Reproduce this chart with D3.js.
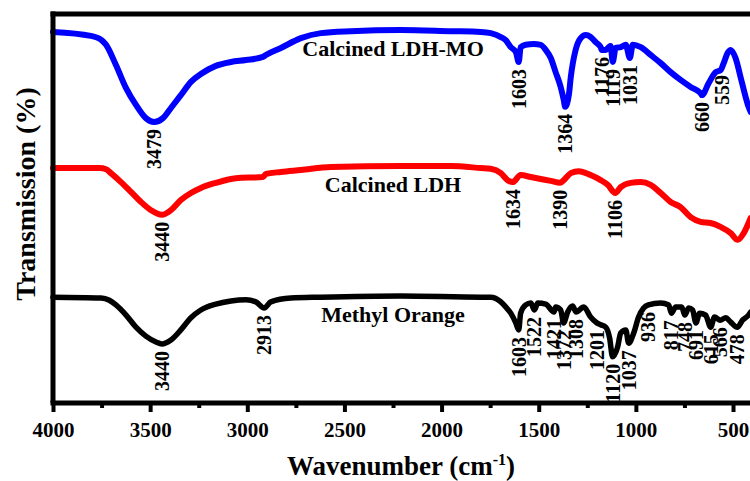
<!DOCTYPE html>
<html>
<head>
<meta charset="utf-8">
<script src="https://cdn.jsdelivr.net/npm/d3@7"></script>
<style>
  body { margin: 0; background: #fff; }
  svg { display: block; }
  text { font-family: "Liberation Serif", "Times New Roman", serif; font-weight: bold; fill: #000; }
</style>
</head>
<body>
<div id="chart"></div>
<script>
// FTIR spectra: [wavenumber (cm-1), transmission (a.u.)]
var ldhMoSpectrum = [
  [4000,95.4],[3805,94.4],[3750,93.3],[3727,92.1],[3676,86.9],[3624,81.0],[3573,76.7],[3522,73.3],[3480,72.3],
  [3434,73.3],[3393,75.9],[3342,79.2],[3290,82.6],[3239,84.6],[3162,86.7],[3084,87.7],[3007,88.2],
  [2920,89.0],[2904,89.5],[2827,91.3],[2724,93.8],[2621,95.1],[2467,95.6],[2210,95.9],[1953,95.6],
  [1798,95.4],[1747,95.1],[1695,94.1],[1670,93.3],[1644,91.5],[1618,90.3],[1603,87.7],[1593,91.5],
  [1567,92.1],[1526,92.3],[1490,92.1],[1464,90.8],[1438,88.7],[1413,85.1],[1387,81.3],[1371,77.9],
  [1364,76.2],[1345,79.2],[1335,83.8],[1310,90.8],[1284,93.8],[1258,94.6],[1233,94.1],[1207,92.8],
  [1181,91.5],[1176,90.8],[1155,90.8],[1140,91.5],[1130,91.8],[1119,87.7],[1104,91.3],[1078,91.5],
  [1052,92.1],[1031,88.7],[1016,92.1],[975,91.5],[924,89.5],[872,87.4],[821,85.1],[770,83.1],
  [718,81.3],[667,79.7],[660,79.2],[625,82.3],[589,85.1],[564,85.6],[548,87.4],[528,90.0],
  [512,90.8],[487,88.7],[461,83.8],[435,78.7],[420,76.2],[409,74.9]
];

var ldhSpectrum = [
  [4000,60.5],[3760,60.5],[3727,60.2],[3702,59.2],[3650,56.9],[3599,54.4],[3547,51.8],[3496,49.7],[3440,48.5],
  [3393,49.7],[3342,52.3],[3290,54.1],[3239,55.4],[3162,56.7],[3059,57.9],[2920,58.2],[2904,59.0],
  [2827,59.5],[2724,60.0],[2570,60.8],[2210,61.0],[1953,61.0],[1798,60.5],[1747,60.3],[1695,59.2],
  [1660,57.4],[1634,56.9],[1593,58.7],[1541,58.2],[1490,57.7],[1438,57.2],[1390,56.7],[1371,57.4],
  [1335,59.2],[1294,59.7],[1233,58.7],[1181,57.4],[1145,56.2],[1106,54.1],[1078,55.6],[1027,56.7],
  [975,56.9],[924,56.2],[872,54.1],[821,51.8],[770,50.5],[718,47.9],[667,46.7],[615,46.4],
  [564,45.4],[512,43.8],[476,42.1],[445,43.8],[420,46.4],[409,47.7]
];

var moSpectrum = [
  [4000,27.4],[3753,27.2],[3710,26.6],[3676,25.4],[3624,22.8],[3573,19.7],[3522,17.4],[3470,15.9],[3440,15.4],
  [3393,16.4],[3342,19.0],[3290,22.1],[3239,24.1],[3162,25.6],[3084,26.4],[3007,26.7],[2956,26.2],
  [2913,24.6],[2879,26.2],[2776,27.2],[2621,27.4],[2210,27.7],[1798,27.4],[1747,27.4],[1695,26.2],
  [1670,24.9],[1644,23.3],[1618,20.8],[1603,19.0],[1593,23.3],[1567,25.4],[1541,25.9],[1522,24.1],
  [1505,25.9],[1464,25.6],[1421,23.6],[1413,24.9],[1387,24.1],[1372,20.8],[1351,23.6],[1325,25.1],
  [1308,23.6],[1268,24.9],[1233,22.3],[1201,20.8],[1181,20.3],[1155,19.7],[1135,16.9],[1120,12.1],
  [1094,14.6],[1078,18.2],[1052,19.0],[1037,15.6],[1011,18.2],[986,22.3],[960,24.6],[936,25.4],
  [872,25.9],[831,25.4],[817,23.3],[795,24.9],[764,24.9],[748,22.8],[728,24.6],[708,24.1],
  [691,20.8],[672,23.3],[641,22.8],[615,19.7],[595,22.3],[566,21.5],[538,22.1],[512,21.0],
  [478,19.7],[451,21.5],[420,22.8],[409,23.6]
];

// labelled band positions (cm-1)
var ldhMoPeaks = [3479, 1603, 1364, 1176, 1119, 1031, 660, 559];
var ldhPeaks = [3440, 1634, 1390, 1106];
var moPeaks = [3440, 2913, 1603, 1522, 1421, 1372, 1308, 1201, 1120, 1037, 936, 817, 748, 691, 615, 566, 478];

var seriesNames = ["Calcined LDH-MO", "Calcined LDH", "Methyl Orange"];
var seriesColors = ["#0000ff", "#ff0000", "#000000"];

var majorTicks = [4000, 3500, 3000, 2500, 2000, 1500, 1000, 500];
var minorTicks = [3750, 3250, 2750, 2250, 1750, 1250, 750];

var width = 750, height = 481;
var frame = { left: 53, top: 14, bottom: 403 };

var svg = d3.select("#chart").append("svg")
  .attr("width", width)
  .attr("height", height);

// wavenumber runs right to left
var x = d3.scaleLinear().domain([4000, 400]).range([frame.left, frame.left + 3600 * 0.19429]);
var y = d3.scaleLinear().domain([0, 100]).range([404, 14]);

var line = d3.line()
  .x(function (d) { return x(d[0]); })
  .y(function (d) { return y(d[1]); })
  .curve(d3.curveMonotoneX);

// linear lookup of a spectrum value at a given wavenumber
function valueAt(spectrum, w) {
  for (var i = 0; i < spectrum.length - 1; i++) {
    var a = spectrum[i], b = spectrum[i + 1];
    if (w <= a[0] && w >= b[0]) {
      var t = (a[0] - w) / (a[0] - b[0]);
      return a[1] + t * (b[1] - a[1]);
    }
  }
  return spectrum[spectrum.length - 1][1];
}

var series = [
  { name: seriesNames[0], color: seriesColors[0], data: ldhMoSpectrum, peaks: ldhMoPeaks },
  { name: seriesNames[1], color: seriesColors[1], data: ldhSpectrum, peaks: ldhPeaks },
  { name: seriesNames[2], color: seriesColors[2], data: moSpectrum, peaks: moPeaks }
];

// spectra
svg.selectAll("path.spectrum")
  .data(series)
  .enter().append("path")
  .attr("class", "spectrum")
  .attr("d", function (d) { return line(d.data); })
  .attr("fill", "none")
  .attr("stroke", function (d) { return d.color; })
  .attr("stroke-width", function (d, i) { return i === 2 ? 5.5 : 6; })
  .attr("stroke-linejoin", "round")
  .attr("stroke-linecap", "round");

// band labels, rotated, hanging just below the curve
series.forEach(function (s) {
  svg.selectAll(null)
    .data(s.peaks)
    .enter().append("text")
    .attr("transform", function (w) {
      return "translate(" + x(w) + "," + (y(valueAt(s.data, w)) + 7) + ") rotate(-90)";
    })
    .attr("dy", "0.35em")
    .attr("text-anchor", "end")
    .style("font-size", "20px")
    .text(function (w) { return w; });
});

// series names under each trace
series.forEach(function (s) {
  svg.append("text")
    .attr("x", x(2250))
    .attr("y", y(valueAt(s.data, 2250)) + 26)
    .attr("text-anchor", "middle")
    .style("font-size", "22px")
    .text(s.name);
});

// frame: left and top edges
svg.append("line")
  .attr("x1", frame.left).attr("x2", frame.left)
  .attr("y1", frame.top - 2.5).attr("y2", frame.bottom)
  .attr("stroke", "#000").attr("stroke-width", 5);
svg.append("line")
  .attr("x1", frame.left - 2.5).attr("x2", width)
  .attr("y1", frame.top).attr("y2", frame.top)
  .attr("stroke", "#000").attr("stroke-width", 5);

// bottom axis
var xAxis = svg.append("g")
  .attr("transform", "translate(0," + frame.bottom + ")")
  .call(d3.axisBottom(x).tickValues(majorTicks).tickSize(9).tickSizeOuter(0).tickFormat(d3.format("d")));
xAxis.select(".domain").attr("stroke-width", 5).attr("d", "M" + (frame.left - 2.5) + ",0H" + width);
xAxis.selectAll(".tick line").attr("stroke-width", 4);
xAxis.selectAll(".tick text")
  .attr("y", 34).attr("dy", 0)
  .style("font-size", "21px")
  .style("font-family", "'Liberation Serif', 'Times New Roman', serif")
  .style("font-weight", "bold");

var xMinor = svg.append("g")
  .attr("transform", "translate(0," + frame.bottom + ")")
  .call(d3.axisBottom(x).tickValues(minorTicks).tickSize(5).tickFormat(""));
xMinor.select(".domain").remove();
xMinor.selectAll(".tick line").attr("stroke-width", 4);

// axis titles
var xTitle = svg.append("text")
  .attr("x", 401)
  .attr("y", 475)
  .attr("text-anchor", "middle")
  .style("font-size", "27px");
xTitle.append("tspan").text("Wavenumber (cm");
xTitle.append("tspan").attr("dy", -10).style("font-size", "16px").text("-1");
xTitle.append("tspan").attr("dy", 10).text(")");

svg.append("text")
  .attr("transform", "translate(35,194) rotate(-90)")
  .attr("text-anchor", "middle")
  .style("font-size", "28px")
  .text("Transmission (%)");
</script>
</body>
</html>
